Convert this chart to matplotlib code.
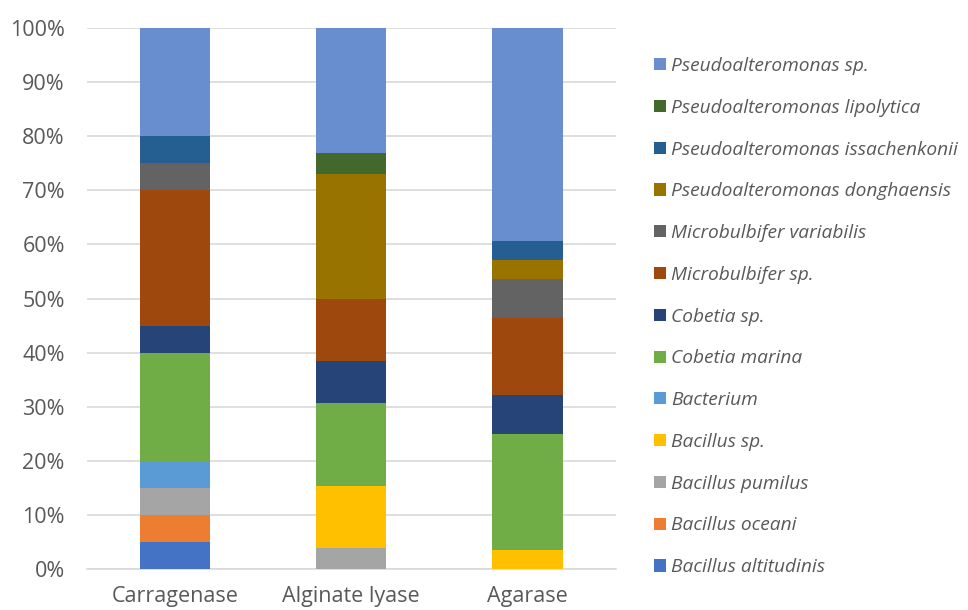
import matplotlib
matplotlib.use("Agg")
import matplotlib.pyplot as plt
from matplotlib.ticker import PercentFormatter

categories = ["Carragenase", "Alginate lyase", "Agarase"]

species = [
    "Bacillus altitudinis",
    "Bacillus oceani",
    "Bacillus pumilus",
    "Bacillus sp.",
    "Bacterium",
    "Cobetia marina",
    "Cobetia sp.",
    "Microbulbifer sp.",
    "Microbulbifer variabilis",
    "Pseudoalteromonas donghaensis",
    "Pseudoalteromonas issachenkonii",
    "Pseudoalteromonas lipolytica",
    "Pseudoalteromonas sp.",
]

# Share (%) of each species per enzyme: Carragenase, Alginate lyase, Agarase
bacillus_altitudinis = [5.0, 0.0, 0.0]
bacillus_oceani = [5.0, 0.0, 0.0]
bacillus_pumilus = [5.0, 3.85, 0.0]
bacillus_sp = [0.0, 11.54, 3.57]
bacterium = [5.0, 0.0, 0.0]
cobetia_marina = [20.0, 15.38, 21.43]
cobetia_sp = [5.0, 7.69, 7.14]
microbulbifer_sp = [25.0, 11.54, 14.29]
microbulbifer_variabilis = [5.0, 0.0, 7.14]
pseudo_donghaensis = [0.0, 23.08, 3.57]
pseudo_issachenkonii = [5.0, 0.0, 3.57]
pseudo_lipolytica = [0.0, 3.85, 0.0]
pseudo_sp = [20.0, 23.08, 39.29]

series = [
    bacillus_altitudinis, bacillus_oceani, bacillus_pumilus, bacillus_sp,
    bacterium, cobetia_marina, cobetia_sp, microbulbifer_sp,
    microbulbifer_variabilis, pseudo_donghaensis, pseudo_issachenkonii,
    pseudo_lipolytica, pseudo_sp,
]

colors = [
    "#4472C4", "#ED7D31", "#A5A5A5", "#FFC000", "#5B9BD5", "#70AD47",
    "#264478", "#9E480E", "#636363", "#997300", "#255E91", "#43682B",
    "#698ED0",
]

text_color = "#595959"
plt.rcParams["font.family"] = ["Open Sans", "DejaVu Sans"]

fig = plt.figure(figsize=(9.68, 6.10), dpi=100)
ax = fig.add_axes([87 / 968, 41 / 610, (615.5 - 87) / 968, 541 / 610])

x = list(range(len(categories)))
bottom = [0.0] * len(categories)
handles = []
for name, vals, col in zip(species, series, colors):
    h = ax.bar(x, vals, width=0.40, bottom=bottom, color=col, label=name, zorder=3)
    handles.append(h)
    bottom = [b + v for b, v in zip(bottom, vals)]

ax.set_xlim(-0.5, len(categories) - 0.5)
ax.set_ylim(0, 100)
ax.set_yticks(range(0, 101, 10))
ax.yaxis.set_major_formatter(PercentFormatter(decimals=0))
ax.set_xticks(x)
ax.set_xticklabels(categories)
ax.grid(axis="y", color="#D9D9D9", linewidth=1.2, zorder=0)
for s in ["top", "right", "left"]:
    ax.spines[s].set_visible(False)
ax.spines["bottom"].set_color("#D9D9D9")
ax.spines["bottom"].set_linewidth(1.2)
ax.tick_params(axis="both", length=0, colors=text_color, labelsize=15.5)
ax.tick_params(axis="x", pad=12)
ax.tick_params(axis="y", pad=16)

leg = fig.legend(
    handles[::-1], species[::-1],
    loc="upper left", bbox_to_anchor=(654 / 968, 1 - 57 / 610),
    frameon=False, handlelength=0.6, handleheight=0.6, handletextpad=0.3,
    labelspacing=1.24, borderaxespad=0, borderpad=0,
    prop={"style": "italic", "size": 13.8},
)
for t in leg.get_texts():
    t.set_color(text_color)

fig.savefig("out.png", dpi=100)
